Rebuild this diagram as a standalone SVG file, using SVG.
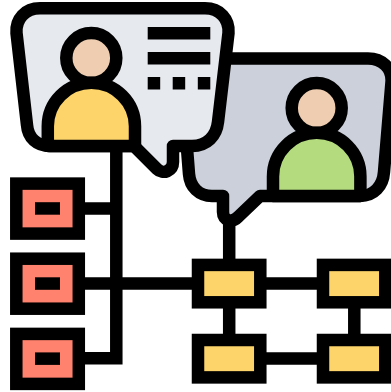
<svg xmlns="http://www.w3.org/2000/svg" width="391" height="392" viewBox="0 0 391 392">
<style>
.o{stroke:#000;stroke-width:12.5;stroke-linejoin:round}
.k{fill:#000}
.m{stroke:#000;stroke-width:12.5;fill:none}
.r{fill:#ff826e;stroke:#000;stroke-width:12.5}
.y{fill:#fcd46a;stroke:#000;stroke-width:12.5}
.h{fill:#eecdb0}
</style>
<g id="connectors">
<path class="m" d="M116.300 150V358.200H80M80 208.400H116.300M80 283.500H198M229.200 220V340M354.300 300V340M260 283.500H325M260 358.600H325"/>
</g>
<g id="bubble-right">
<path class="o" fill="#cbd0da" d="M200 58.500H368C382 58.500 392.500 68 391.500 82L384 172C383 186 374 196 360 196H260L238 217C232 223 223 221 223 212V196H212C199 196 190 187 189 174L180 58.500Z"/>
<circle class="o h" cx="316.700" cy="108" r="25"/>
<path class="o" fill="#b4dc7f" d="M273 196V176.500A43.700 43.700 0 0 1 360.400 176.500V196Z"/>
</g>
<g id="bubble-left">
<path class="o" fill="#e6e9ee" d="M40 8.300H205C220 8.300 229.500 19 228.500 33L218 122C216.500 136 207 146 192 146H173V162C173 171 163 175 157 169L134 146H50C37 146 28 138 27 125L16.500 33C15.500 19 25 8.300 40 8.300Z"/>
<circle class="o h" cx="91.300" cy="58" r="25"/>
<path class="o" fill="#fcd46a" d="M47.800 146V126.300A43.600 43.600 0 0 1 135 126.300V146Z"/>
<rect class="k" x="147.700" y="27" width="62.600" height="12.500"/>
<rect class="k" x="147.700" y="52" width="62.600" height="12.500"/>
<rect class="k" x="147.700" y="77" width="12.500" height="12.500"/>
<rect class="k" x="172.700" y="77" width="12.500" height="12.500"/>
<rect class="k" x="197.800" y="77" width="12.500" height="12.500"/>
</g>
<g id="left-node-1"><rect class="r" x="16.300" y="183.600" width="62.500" height="50"/><rect class="k" x="35" y="202.200" width="25" height="12.500"/></g>
<g id="left-node-2"><rect class="r" x="16.300" y="258.700" width="62.500" height="50"/><rect class="k" x="35" y="277.300" width="25" height="12.500"/></g>
<g id="left-node-3"><rect class="r" x="16.300" y="333.900" width="62.500" height="50"/><rect class="k" x="35" y="352.400" width="25" height="12.500"/></g>
<g id="right-node-1"><rect class="y" x="198" y="264.900" width="62.300" height="37.400"/></g>
<g id="right-node-2"><rect class="y" x="323" y="264.900" width="62.300" height="37.400"/></g>
<g id="right-node-3"><rect class="y" x="198" y="340" width="62.300" height="37.400"/></g>
<g id="right-node-4"><rect class="y" x="323" y="340" width="62.300" height="37.400"/></g>
</svg>
